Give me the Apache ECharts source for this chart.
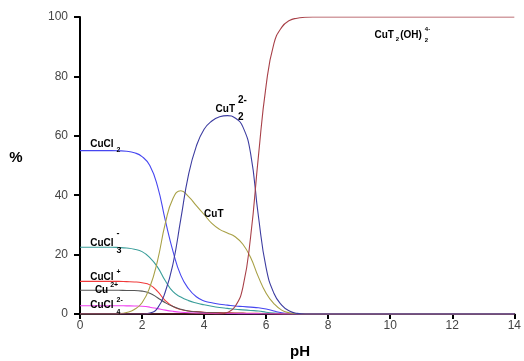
<!DOCTYPE html>
<html><head><meta charset="utf-8">
<script src="https://cdn.jsdelivr.net/npm/echarts@6/dist/echarts.min.js"></script>
<style>html,body{margin:0;padding:0;background:#fff}#c{width:524px;height:361px}</style>
</head><body><div id="c"></div>
<script>
const pH = [0,0.25,0.5,0.75,1,1.25,1.5,1.75,2,2.25,2.5,2.75,3,3.25,3.5,3.75,4,4.25,4.5,4.75,5,5.25,5.5,5.75,6,6.25,6.5,6.75,7,7.25,7.5,7.75,8,14];
const CuCl2   = [55,55,55,55,55,54.95,54.8,54.3,53,50,43,31.5,21,13,8.5,5.8,4.4,3.8,3.3,3,2.7,2.5,2.3,2.1,1.7,1,0.4,0.1,0,0,0,0,0,0];
const CuCl3   = [22.5,22.5,22.5,22.5,22.5,22.4,22.2,21.8,21,19,15.8,11.2,7.5,5.7,4.5,3.7,3.1,2.6,2.2,1.9,1.6,1.4,1.2,1,0.6,0.3,0.1,0,0,0,0,0,0,0];
const CuClp   = [11,11,11,11,11,11,10.9,10.8,10.5,9.8,7.6,4.5,2.5,1.5,1,0.8,0.6,0.5,0.45,0.4,0.35,0.3,0.25,0.2,0.15,0.08,0.03,0,0,0,0,0,0,0];
const Cu2p    = [8,8,8,8,8,8,7.9,7.9,7.7,7,5.5,3.8,2.5,1.6,1,0.7,0.5,0.4,0.35,0.3,0.25,0.2,0.15,0.12,0.08,0.04,0.01,0,0,0,0,0,0,0];
const CuCl4   = [2.8,2.8,2.8,2.8,2.8,2.8,2.75,2.7,2.6,2.3,1.8,1.3,0.9,0.6,0.4,0.3,0.2,0.15,0.1,0.08,0.06,0.05,0.04,0.03,0.02,0.01,0,0,0,0,0,0,0,0];
const CuT     = [0,0,0,0,0,0.1,0.5,1.5,3.8,9,18,30.5,39,41.5,39.5,36.5,33.5,30.5,28.5,27.3,26,23.5,19,12.5,7,3.5,1.3,0.4,0.1,0,0,0,0,0];
const CuT2    = [0,0,0,0,0,0,0,0,0,0.3,2,7.5,17,32,47,56.5,62.2,65,66.4,66.8,66,63,54,33,15.5,7,3,1,0.2,0,0,0,0,0];
const CuT2OH2 = [0,0,0,0,0,0,0,0,0,0,0,0,0,0,0,0,0,0,0,0.5,2.5,9,26,53,77,91,96.5,98.8,99.6,99.9,100,100,100,100];

const seriesDefs = [
  ['CuCl2', CuCl2, '#4646f0'],
  ['CuCl3-', CuCl3, '#3a9e9a'],
  ['CuCl+', CuClp, '#f03a3a'],
  ['Cu2+', Cu2p, '#555555'],
  ['CuCl4 2-', CuCl4, '#f040f0'],
  ['CuT', CuT, '#a8a045'],
  ['CuT2 2-', CuT2, '#3c3ca0'],
  ['CuT2(OH)2 4-', CuT2OH2, '#a84048']
];

const chart = echarts.init(document.getElementById('c'), null, {renderer:'canvas'});
chart.setOption({
  animation:false,
  grid:{left:80,right:6,top:17,bottom:47,containLabel:false},
  xAxis:{type:'value',min:0,max:14,interval:2,
    axisLine:{onZero:false,lineStyle:{color:'#000',width:2}},
    axisTick:{show:true,length:5,lineStyle:{color:'#000',width:2}},
    axisLabel:{color:'#444',fontSize:12,fontFamily:'Liberation Sans, Arial',margin:6},
    splitLine:{show:false}},
  yAxis:{type:'value',min:0,max:100,interval:20,
    axisLine:{show:true,lineStyle:{color:'#000',width:2}},
    axisTick:{show:true,length:6,lineStyle:{color:'#000',width:2}},
    axisLabel:{color:'#444',fontSize:12,fontFamily:'Liberation Sans, Arial',margin:12},
    splitLine:{show:false}},
  series: seriesDefs.map(([n,v,c])=>({
    name:n,type:'line',data:pH.map((x,i)=>[x,v[i]]),showSymbol:false,
    smooth:0.5,lineStyle:{color:c,width:1.1},itemStyle:{color:c},z:2
  }))
});

const F = 'Liberation Sans, Arial, sans-serif';
const mctx = document.createElement('canvas').getContext('2d');
function tw(t,size){mctx.font='bold '+size+'px '+F;return mctx.measureText(t).width;}
// annotations: [main text, pH, pct, [pieces: text, gap after main, dy, size]]
const annotations = [
  ['CuCl', 0.33, 57.2, [['2',3,6,7]]],
  ['CuCl', 0.33, 23.9, [['-',3,-10,9],['3',3,7,9]]],
  ['CuCl', 0.33, 12.4, [['+',3,-5,7]]],
  ['Cu', 0.48, 8.0, [['2+',2,-5,7]]],
  ['CuCl', 0.33, 3.0, [['2-',3,-5,7],['4',3,7,7]]],
  ['CuT', 4.0, 33.7, []],
  ['CuT', 4.37, 69.0, [['2-',3,-9,10],['2',3,8,10]]]
];
const g = [];
function txt(x,y,t,size){g.push({type:'text',x:x,y:y,style:{text:t,fill:'#000',font:'bold '+size+'px '+F,textAlign:'left',textVerticalAlign:'middle'},z:10});}
annotations.forEach(([m,px,py,pieces])=>{
  const p = chart.convertToPixel({gridIndex:0},[px,py]);
  txt(p[0],p[1],m,10);
  const wm = tw(m,10);
  pieces.forEach(([t,dx,dy,s])=>txt(p[0]+wm+dx,p[1]+dy,t,s));
});
(function(){
  const p = chart.convertToPixel({gridIndex:0},[9.49,93.9]);
  let x = p[0];
  txt(x,p[1],'CuT',10); x += tw('CuT',10)+2;
  txt(x,p[1]+4,'2',6); x += tw('2',6)+1;
  txt(x,p[1],'(OH)',10); x += tw('(OH)',10)+3;
  txt(x,p[1]-6,'4-',6); txt(x,p[1]+5,'2',6);
})();
g.push({type:'text',x:16,y:158,style:{text:'%',fill:'#000',font:'bold 15px '+F,textAlign:'center',textVerticalAlign:'middle'}});
g.push({type:'text',x:300,y:352,style:{text:'pH',fill:'#000',font:'bold 15px '+F,textAlign:'center',textVerticalAlign:'middle'}});
chart.setOption({graphic:g});
</script></body></html>
